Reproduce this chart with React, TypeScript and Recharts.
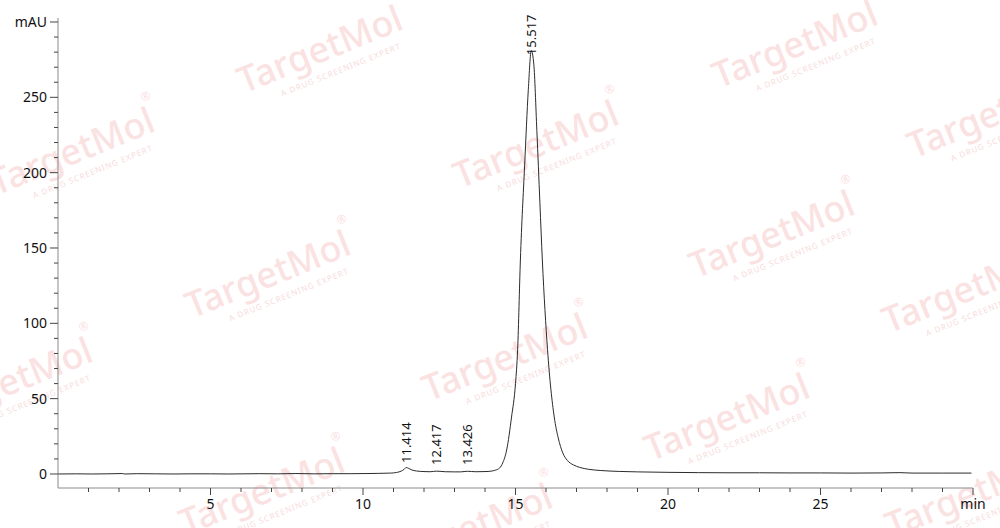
import React from "react";
import { ComposedChart, Line, Scatter, XAxis, YAxis } from "recharts";

// retention time (min) and detector signal (mAU)
const times = [
  0, 0.6, 1.1, 1.6, 2.1, 2.2, 2.6, 3.2, 3.8, 4.3, 5.0, 5.6, 6.1, 6.6, 7.2, 7.8,
  8.4, 9.0, 9.6, 10.1, 10.5, 10.9, 11.1, 11.25, 11.35, 11.414, 11.5, 11.6, 11.75,
  12.0, 12.2, 12.417, 12.7, 13.0, 13.2, 13.426, 13.7, 14.0, 14.2, 14.35, 14.48,
  14.58, 14.71, 14.87, 15.0, 15.07, 15.16, 15.3, 15.42, 15.517, 15.6, 15.7, 15.8,
  15.88, 16.05, 16.27, 16.4, 16.55, 16.7, 16.9, 17.1, 17.4, 17.8, 18.4, 19.0,
  20.0, 21.0, 22.0, 23.0, 24.0, 25.0, 26.0, 27.0, 27.6, 28.0, 29.0, 29.95,
];
const signal = [
  0, 0.1, 0, 0.1, 0.3, 0, 0.2, 0.1, 0, 0.1, 0.1, 0, 0.1, 0.2, 0.1, 0.3,
  0.1, 0.2, 0.2, 0.3, 0.4, 0.6, 1.0, 1.9, 3.1, 4.3, 3.7, 2.7, 2.0,
  1.6, 1.5, 1.9, 1.5, 1.4, 1.4, 1.8, 1.5, 1.6, 1.9, 2.6, 4.0,
  7.3, 15.9, 37.8, 60, 82.6, 142, 205, 255, 281, 272, 228, 180,
  142, 82.6, 37.8, 24, 14, 9, 6, 4.4, 3.1, 2.3, 1.7, 1.4,
  1.1, 0.9, 0.8, 0.8, 0.7, 0.7, 0.6, 0.7, 0.9, 0.6, 0.6, 0.6,
];

const peakTimes = [11.414, 12.417, 13.426, 15.517];
const peakLabels = ["11.414", "12.417", "13.426", "15.517"];
const peakLabelAt = [7.3, 6, 6, 278]; // mAU where each label starts

const xTicks = [
  1, 2, 3, 4, 5, 6, 7, 8, 9, 10, 11, 12, 13, 14, 15, 16, 17, 18, 19, 20, 21, 22,
  23, 24, 25, 26, 27, 28, 29, 30,
];
const yTicks = [
  0, 10, 20, 30, 40, 50, 60, 70, 80, 90, 100, 110, 120, 130, 140, 150, 160, 170,
  180, 190, 200, 210, 220, 230, 240, 250, 260, 270, 280, 290, 300,
];

const trace = times.map((t, i) => ({ t, v: signal[i] }));
const peaks = peakTimes.map((t, i) => ({ t, v: peakLabelAt[i], label: peakLabels[i] }));

// background watermark centres
const marks = [
  [320, 50], [795, 45], [72, 152], [536, 145], [990, 115], [268, 275],
  [772, 235], [965, 290], [10, 382], [505, 358], [727, 418], [262, 492],
  [968, 495], [470, 528],
];

const font = "'Noto Sans', sans-serif";

function XTick({ x, y, payload }: any) {
  const v = payload.value;
  const major = v % 5 === 0;
  return (
    <g>
      <line x1={x} x2={x} y1={y} y2={y + (major ? 7 : 4)} stroke="#444" />
      {major && (
        <text x={x} y={y + 21} textAnchor="middle" fontSize={14} fill="#111" fontFamily={font}>
          {v === 30 ? "min" : v}
        </text>
      )}
    </g>
  );
}

function YTick({ x, y, payload }: any) {
  const v = payload.value;
  const major = v % 50 === 0;
  return (
    <g>
      <line x1={x - (major ? 8 : 4)} x2={x} y1={y} y2={y} stroke="#444" />
      {major && (
        <text x={x - 11} y={y + 5} textAnchor="end" fontSize={14} fill="#111" fontFamily={font}>
          {v === 300 ? "mAU" : v}
        </text>
      )}
    </g>
  );
}

function PeakLabel({ cx, cy, payload }: any) {
  return (
    <text
      transform={`translate(${cx},${cy}) rotate(-90)`}
      dy="0.36em"
      fontSize={13}
      fill="#111"
      fontFamily={font}
    >
      {payload.label}
    </text>
  );
}

function Watermarks() {
  return (
    <svg width={1000} height={528} style={{ position: "absolute", left: 0, top: 0 }}>
      {marks.map(([cx, cy], i) => (
        <g key={i} transform={`translate(${cx},${cy}) rotate(-22)`}>
          <text x={0} y={12} textAnchor="middle" fontSize={36} fontWeight={500} fill="#fbe2e2" fontFamily={font}>
            TargetMol
          </text>
          <text x={84} y={-20} fontSize={12} fill="#fbe2e2" fontFamily={font}>
            ®
          </text>
          <text x={12} y={29} textAnchor="middle" fontSize={8} letterSpacing={1} fill="#f7dcdc" fontFamily={font}>
            A DRUG SCREENING EXPERT
          </text>
        </g>
      ))}
    </svg>
  );
}

export default function App() {
  return (
    <div style={{ position: "fixed", left: 0, top: 0, width: 1000, height: 528, background: "#fff" }}>
      <Watermarks />
      <div style={{ position: "absolute", left: 0, top: 0 }}>
        <ComposedChart width={1000} height={528} margin={{ top: 18, right: 27, bottom: 0, left: 0 }}>
          <XAxis
            dataKey="t"
            type="number"
            domain={[0, 30]}
            ticks={xTicks}
            interval={0}
            height={40}
            tickSize={0}
            tickMargin={0}
            tickLine={false}
            axisLine={{ stroke: "#8a8a8a" }}
            tick={<XTick />}
          />
          <YAxis
            type="number"
            domain={[-9.3, 302.65]}
            ticks={yTicks}
            interval={0}
            width={58}
            tickSize={0}
            tickMargin={0}
            tickLine={false}
            axisLine={{ stroke: "#8a8a8a" }}
            tick={<YTick />}
          />
          <Line
            data={trace}
            dataKey="v"
            type="monotone"
            stroke="#2b2b2b"
            strokeWidth={1}
            dot={false}
            activeDot={false}
            isAnimationActive={false}
          />
          <Scatter data={peaks} dataKey="v" shape={<PeakLabel />} isAnimationActive={false} />
        </ComposedChart>
      </div>
    </div>
  );
}
